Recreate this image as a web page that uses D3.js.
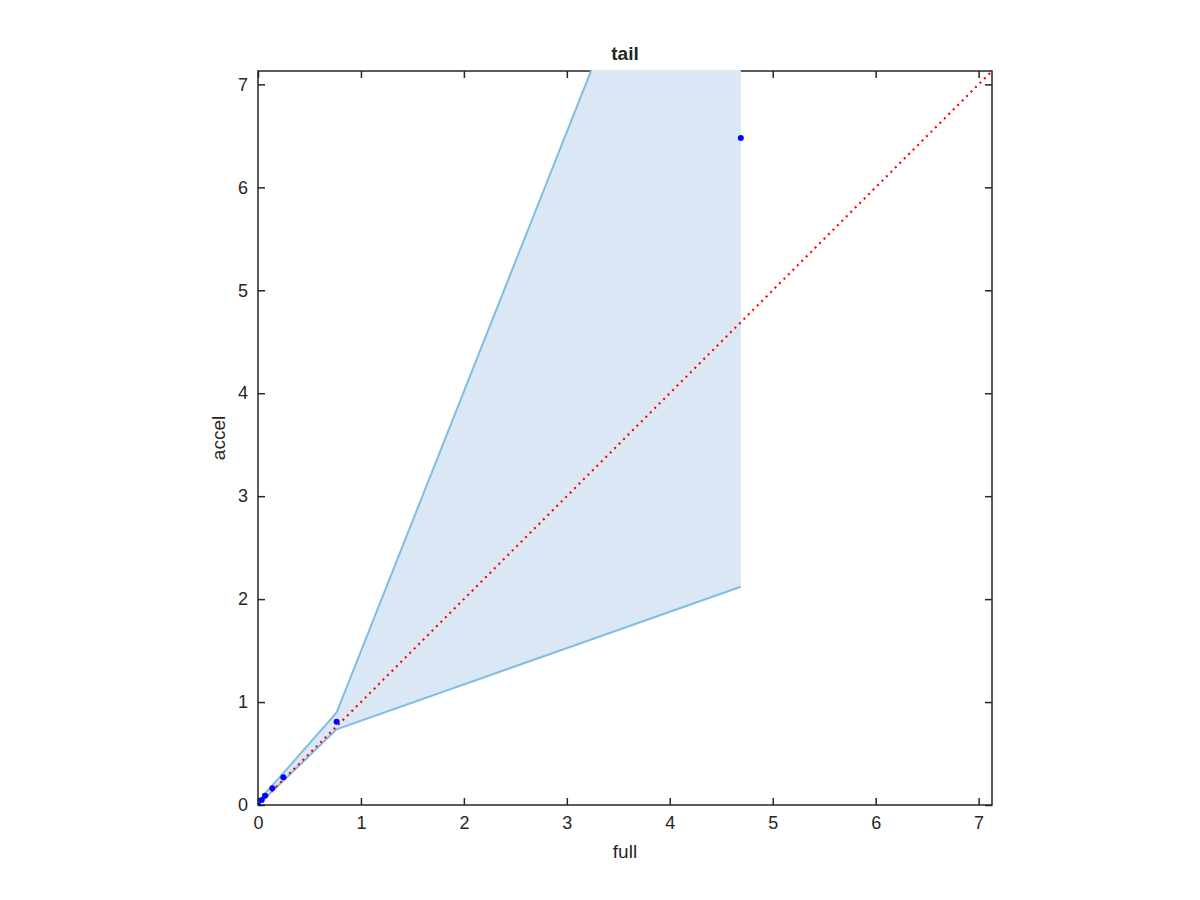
<!DOCTYPE html>
<html>
<head>
<meta charset="utf-8">
<script src="https://cdn.jsdelivr.net/npm/d3@7"></script>
<style>
  body { margin: 0; background: #fff; }
  text { font-family: "Liberation Sans", Helvetica, Arial, sans-serif; fill: #262626; }
</style>
</head>
<body>
<svg id="svg" width="1200" height="900"></svg>
<script>
// data
const fullVals = [0, 0.036, 0.068, 0.139, 0.246, 0.764, 4.69]
const accelVals = [0, 0.049, 0.09, 0.162, 0.269, 0.809, 6.48]
const bandLow = [0, 0.035, 0.062, 0.135, 0.235, 0.735, 2.12]
const bandHigh = [0, 0.06, 0.11, 0.19, 0.31, 0.9, 10.8]
const ticks = [0, 1, 2, 3, 4, 5, 6, 7]
const LIM = 7.13

const LEFT = 258
const RIGHT = 992
const TOP = 71
const BOTTOM = 805

const svg = d3.select('svg')
const x = d3.scaleLinear().domain([0, LIM]).range([LEFT, RIGHT])
const y = d3.scaleLinear().domain([0, LIM]).range([BOTTOM, TOP])

svg.append('defs').append('clipPath').attr('id', 'clip')
  .append('rect')
  .attr('x', LEFT).attr('y', TOP - 1)
  .attr('width', RIGHT - LEFT).attr('height', BOTTOM - TOP + 1)

// axes box with inward ticks
const axisColor = '#262626'
const drawAxis = (axis, tx, ty) => {
  const g = svg.append('g').attr('transform', `translate(${tx},${ty})`).call(axis)
  g.select('.domain').remove()
  g.selectAll('line').attr('stroke', axisColor).attr('stroke-width', 1.5)
  g.selectAll('text').style('font-size', '18px').attr('fill', axisColor)
  return g
}
drawAxis(d3.axisBottom(x).tickValues(ticks).tickSize(-7).tickPadding(11).tickFormat(d3.format('d')), 0, BOTTOM)
drawAxis(d3.axisTop(x).tickValues(ticks).tickSize(-7).tickFormat(''), 0, TOP)
drawAxis(d3.axisLeft(y).tickValues(ticks).tickSize(-7).tickPadding(10).tickFormat(d3.format('d')), LEFT, 0)
drawAxis(d3.axisRight(y).tickValues(ticks).tickSize(-7).tickFormat(''), RIGHT, 0)

svg.append('rect')
  .attr('x', LEFT).attr('y', TOP)
  .attr('width', RIGHT - LEFT).attr('height', BOTTOM - TOP)
  .attr('fill', 'none').attr('stroke', axisColor).attr('stroke-width', 1.5)

const plot = svg.append('g').attr('clip-path', 'url(#clip)')

const idx = d3.range(fullVals.length)

// shaded band
plot.append('path')
  .datum(idx)
  .attr('fill', '#d9e8f4')
  .attr('d', d3.area().x(i => x(fullVals[i])).y0(i => y(bandLow[i])).y1(i => y(bandHigh[i])))

const edge = d3.line().x(i => x(fullVals[i]))
plot.append('path').datum(idx)
  .attr('fill', 'none').attr('stroke', '#82bde3').attr('stroke-width', 2)
  .attr('d', edge.y(i => y(bandHigh[i])))
plot.append('path').datum(idx)
  .attr('fill', 'none').attr('stroke', '#82bde3').attr('stroke-width', 2)
  .attr('d', edge.y(i => y(bandLow[i])))

// y = x reference
plot.append('line')
  .attr('x1', x(0)).attr('y1', y(0))
  .attr('x2', x(LIM)).attr('y2', y(LIM))
  .attr('stroke', '#ff0000').attr('stroke-width', 2.2)
  .attr('stroke-dasharray', '2,4.3')

// points
plot.selectAll('circle.pt')
  .data(idx)
  .enter().append('circle')
  .attr('class', 'pt')
  .attr('cx', i => x(fullVals[i]))
  .attr('cy', i => y(accelVals[i]))
  .attr('r', 3)
  .attr('fill', '#0000ff')

// labels
svg.append('text')
  .attr('x', (LEFT + RIGHT) / 2).attr('y', 60)
  .attr('text-anchor', 'middle')
  .style('font-size', '19px').style('font-weight', 'bold')
  .attr('fill', '#000')
  .text('tail')

svg.append('text')
  .attr('x', (LEFT + RIGHT) / 2).attr('y', 858)
  .attr('text-anchor', 'middle')
  .style('font-size', '19px')
  .text('full')

svg.append('text')
  .attr('transform', `translate(225,${(TOP + BOTTOM) / 2}) rotate(-90)`)
  .attr('text-anchor', 'middle')
  .style('font-size', '19px')
  .text('accel')
</script>
</body>
</html>
